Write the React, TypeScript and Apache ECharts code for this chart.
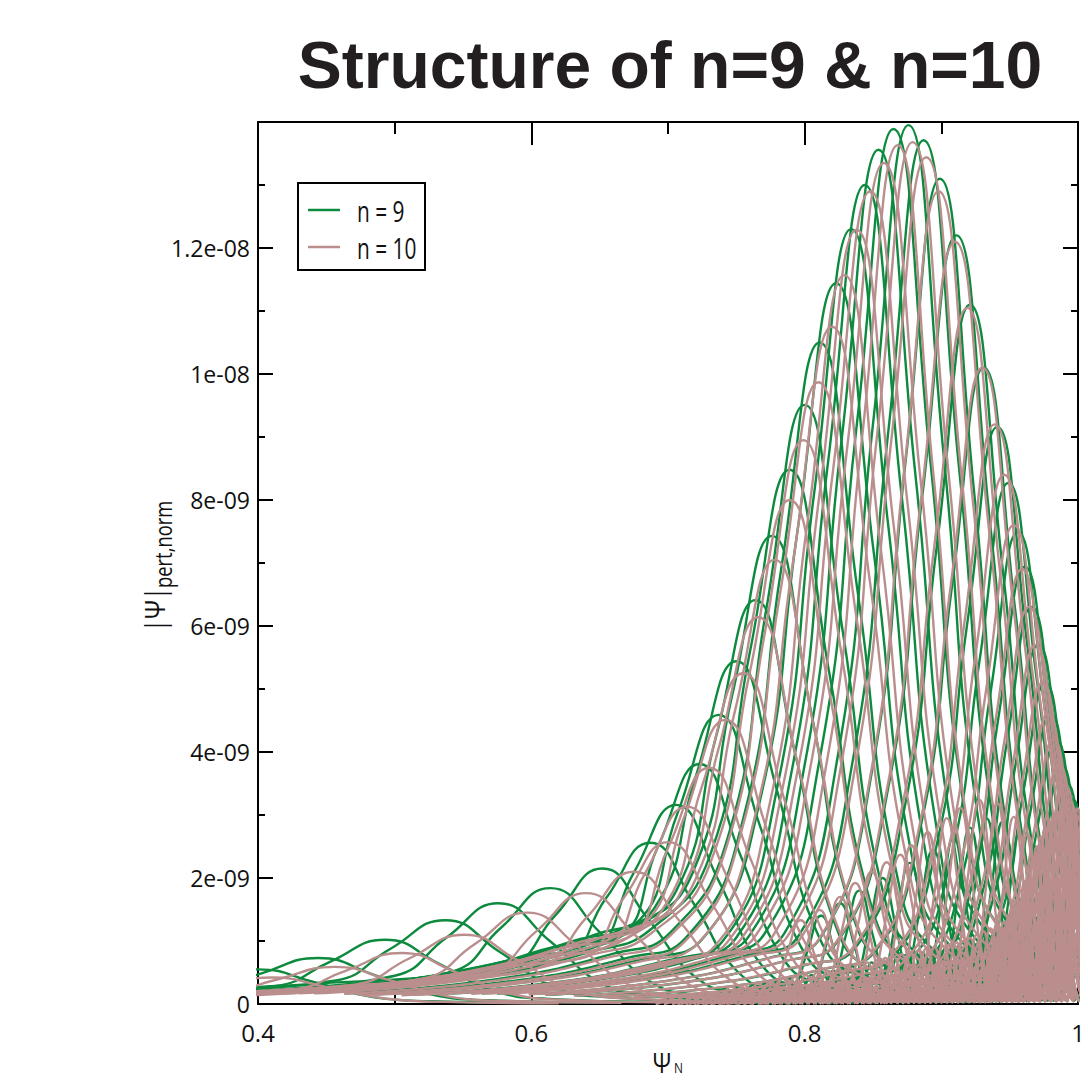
import React, { useEffect, useRef } from "react";
import * as echarts from "echarts";

// All y values are in units of 1e-9.
// n = 9 main harmonics: peak position, peak height, width (sigma), inner tail level (fraction of peak)
const n9PeakX = [0.400,0.444,0.493,0.537,0.576,0.614,0.652,0.687,0.706,0.723,0.737,0.750,0.764,0.776,0.789,0.800,0.811,0.823,0.834,0.844,0.854,0.865,0.876,0.887,0.899,0.911,0.921,0.931,0.941,0.949,0.956,0.961,0.966,0.971,0.976,0.980,0.984,0.988,0.992,0.996];
const n9PeakY = [0.55,0.73,1.02,1.33,1.60,1.84,2.15,2.56,3.16,3.81,4.59,5.44,6.41,7.43,8.48,9.51,10.5,11.44,12.3,13.0,13.56,13.89,13.95,13.71,13.1,12.2,11.1,10.1,9.16,8.27,7.49,6.94,6.3,5.7,5.1,4.6,4.2,3.8,3.5,3.25];
const n9Sigma = [0.042,0.042,0.04,0.04,0.038,0.036,0.034,0.032,0.031,0.03,0.03,0.03,0.029,0.029,0.029,0.028,0.028,0.028,0.027,0.027,0.027,0.027,0.026,0.026,0.025,0.025,0.024,0.023,0.022,0.021,0.020,0.019,0.018,0.017,0.016,0.015,0.014,0.013,0.012,0.011];
const n9Tail = [0.2,0.2,0.2,0.2,0.2,0.2,0.2,0.24,0.24,0.24,0.22,0.2,0.18,0.16,0.14,0.12,0.1,0.09,0.08,0.08,0.08,0.08,0.08,0.08,0.08,0.08,0.08,0.08,0.08,0.08,0.08,0.08,0.08,0.08,0.08,0.08,0.08,0.08,0.08,0.08];

// n = 10 main harmonics
const n10PeakX = [0.410,0.456,0.505,0.551,0.597,0.640,0.675,0.700,0.714,0.730,0.742,0.755,0.766,0.778,0.789,0.799,0.810,0.820,0.829,0.838,0.848,0.858,0.868,0.879,0.889,0.898,0.910,0.919,0.930,0.939,0.946,0.953,0.959,0.964,0.969,0.974,0.978,0.982,0.986,0.990,0.994,0.998];
const n10PeakY = [0.42,0.59,0.81,1.10,1.45,1.76,2.10,2.57,3.13,3.75,4.51,5.25,6.14,7.05,8.0,8.95,9.87,10.75,11.57,12.29,12.9,13.35,13.63,13.68,13.44,12.9,12.1,11.05,10.1,9.2,8.4,7.6,6.9,6.3,5.7,5.1,4.6,4.2,3.8,3.5,3.2,3.0];
const n10Sigma = [0.042,0.042,0.04,0.04,0.038,0.036,0.034,0.032,0.031,0.03,0.03,0.03,0.029,0.029,0.029,0.028,0.028,0.028,0.027,0.027,0.027,0.027,0.026,0.026,0.026,0.025,0.025,0.024,0.023,0.022,0.021,0.020,0.019,0.018,0.017,0.016,0.015,0.014,0.013,0.012,0.011,0.010];
const n10Tail = [0.2,0.2,0.2,0.2,0.2,0.2,0.2,0.24,0.24,0.24,0.22,0.2,0.18,0.16,0.14,0.12,0.1,0.09,0.08,0.08,0.08,0.08,0.08,0.08,0.08,0.08,0.08,0.08,0.08,0.08,0.08,0.08,0.08,0.08,0.08,0.08,0.08,0.08,0.08,0.08,0.08,0.08];

// secondary lobes
const n9LobeX = [0.812,0.826,0.840,0.857,0.877,0.894,0.909,0.921,0.933,0.945,0.957,0.968,0.978,0.987,0.995];
const n9LobeY = [1.40,1.60,1.80,2.00,2.24,2.44,2.65,2.80,2.95,2.90,2.70,2.50,2.30,2.10,1.90];
const n9LobeSigma = [0.010,0.010,0.010,0.010,0.010,0.010,0.009,0.009,0.009,0.009,0.008,0.008,0.007,0.007,0.006];

const n10LobeX = [0.797,0.811,0.826,0.837,0.849,0.860,0.870,0.878,0.890,0.904,0.914,0.928,0.941,0.953,0.963,0.972,0.980,0.988,0.995];
const n10LobeY = [1.33,1.49,1.70,1.92,2.10,2.25,2.37,2.52,2.73,2.95,3.11,3.24,3.19,2.97,2.70,2.45,2.20,2.00,1.80];
const n10LobeSigma = [0.010,0.010,0.010,0.010,0.010,0.010,0.010,0.009,0.009,0.009,0.009,0.009,0.008,0.008,0.007,0.007,0.006,0.006,0.005];

// small ripples near the baseline
const n9RippleX = [0.742,0.752,0.762,0.771,0.780,0.789,0.797,0.805,0.813,0.821,0.828,0.835,0.842,0.849,0.856,0.862,0.868,0.874,0.880,0.886,0.892,0.898,0.903,0.908,0.913,0.918,0.923,0.928,0.933,0.938,0.943,0.948,0.953,0.958,0.963,0.968,0.973,0.978,0.983,0.988,0.993,0.998];
const n9RippleY = [0.25,0.28,0.30,0.33,0.36,0.40,0.43,0.46,0.50,0.53,0.56,0.60,0.63,0.66,0.70,0.72,0.75,0.78,0.80,0.82,0.84,0.86,0.88,0.90,0.92,0.95,0.98,1.00,1.05,1.10,1.15,1.20,1.25,1.30,1.35,1.40,1.45,1.50,1.55,1.60,1.65,1.70];
const n10RippleX = [0.746,0.756,0.766,0.775,0.784,0.793,0.801,0.809,0.817,0.825,0.832,0.839,0.846,0.853,0.859,0.865,0.871,0.877,0.883,0.889,0.895,0.901,0.906,0.911,0.916,0.921,0.926,0.931,0.936,0.941,0.946,0.951,0.956,0.961,0.966,0.971,0.976,0.981,0.986,0.991,0.996];
const n10RippleY = [0.28,0.30,0.33,0.36,0.40,0.43,0.46,0.50,0.53,0.56,0.60,0.63,0.66,0.70,0.73,0.76,0.79,0.82,0.85,0.88,0.90,0.92,0.95,0.98,1.00,1.05,1.10,1.15,1.20,1.25,1.30,1.36,1.42,1.48,1.54,1.60,1.66,1.72,1.78,1.84,1.90];
const rippleSigma = 0.005;

// very small harmonics hugging the baseline (n = 10)
const n10FloorX = [0.700,0.706,0.712,0.718,0.724,0.730,0.736,0.742,0.748,0.754,0.760,0.765,0.770,0.775,0.780,0.785,0.790,0.795,0.800,0.805,0.810,0.815,0.820,0.825,0.830,0.835,0.840,0.845,0.850,0.855,0.860,0.864,0.868,0.872,0.876,0.880,0.884,0.888,0.892,0.896,0.900,0.904,0.908,0.912,0.916,0.920,0.924,0.928,0.932,0.936,0.940,0.944,0.948,0.952,0.956,0.960,0.964,0.968,0.972,0.976,0.980,0.984,0.988,0.992,0.996,1.000];
const n10FloorY = [0.12,0.13,0.14,0.15,0.16,0.17,0.18,0.19,0.20,0.21,0.22,0.23,0.24,0.25,0.26,0.27,0.28,0.29,0.30,0.31,0.32,0.33,0.34,0.35,0.36,0.37,0.38,0.39,0.40,0.42,0.44,0.46,0.48,0.50,0.52,0.54,0.56,0.58,0.60,0.62,0.64,0.66,0.68,0.70,0.72,0.74,0.76,0.78,0.80,0.82,0.84,0.86,0.88,0.90,0.92,0.94,0.96,0.98,1.00,1.02,1.04,1.06,1.08,1.10,1.12,1.14];
const floorSigma = 0.003;

// dense high-m harmonics packed against the edge (n = 10)
const n10EdgeX = [0.940,0.943,0.946,0.949,0.952,0.955,0.958,0.961,0.964,0.967,0.970,0.973,0.976,0.979,0.982,0.985,0.988,0.991,0.994,0.997,1.000];
const n10EdgeY = [1.0,1.1,1.2,1.35,1.5,1.65,1.8,1.95,2.1,2.3,2.5,2.65,2.8,2.9,3.0,3.05,3.1,3.1,3.1,3.1,3.1];
const edgeSigma = 0.004;

// shape key points of one harmonic (offset in widths, fraction of peak)
const tailOffsets = [-12, -8, -5, -3.5];
const tailShape = [0.15, 0.35, 0.7, 1];
const coreOffsets = [-2, -1, 0, 1, 2, 3, 5];
const coreRatios = [0.28, 0.66, 1, 0.62, 0.2, 0.08, 0.03];
const lobeOffsets = [-3, -2, -1, 0, 1, 2, 3];
const lobeRatios = [0.03, 0.15, 0.6, 1, 0.6, 0.15, 0.03];

const xTicks = [0.4, 0.6, 0.8, 1];
const yTickLabels: Record<number, string> = { 0: "0", 2: "2e-09", 4: "4e-09", 6: "6e-09", 8: "8e-09", 10: "1e-08", 12: "1.2e-08", 14: "" };

const GREEN = "#0d8a3e";
const PINK = "#bb8e8e";
const FONT = "'Open Sans', 'Liberation Sans', sans-serif";

function lineSeries(data: number[][], color: string, name: string, width: number) {
  return {
    type: "line",
    name,
    data,
    smooth: 0.5,
    symbol: "none",
    silent: true,
    clip: true,
    lineStyle: { color, width },
    itemStyle: { color },
  };
}

function mainSeries(xs: number[], ys: number[], sig: number[], tail: number[], color: string, name: string) {
  return xs.map((x, i) => {
    const s = sig[i];
    const h = ys[i];
    const pts = [
      ...tailOffsets.map((o, k) => [x + o * s, h * tail[i] * tailShape[k]]),
      ...coreOffsets.map((o, k) => [x + o * s, h * coreRatios[k]]),
    ];
    return lineSeries(pts, color, name, 2.4);
  });
}

function lobeSeries(xs: number[], ys: number[], sig: number[] | number, color: string, name: string, width = 2.4) {
  return xs.map((x, i) => {
    const s = Array.isArray(sig) ? sig[i] : sig;
    return lineSeries(lobeOffsets.map((o, k) => [x + o * s, ys[i] * lobeRatios[k]]), color, name, width);
  });
}

export default function App() {
  const ref = useRef<HTMLDivElement>(null);
  useEffect(() => {
    if (!ref.current) return;
    const chart = echarts.init(ref.current, null, { renderer: "svg" });
    const tickStyle = { color: "#000", width: 2 };
    const xBase = {
      type: "value",
      min: 0.4,
      max: 1,
      interval: 0.2,
      axisLine: { show: true, onZero: false, lineStyle: { color: "#000", width: 2 } },
      axisTick: { show: true, inside: true, length: 23, lineStyle: tickStyle },
      minorTick: { show: true, splitNumber: 2, length: 12, lineStyle: tickStyle },
      splitLine: { show: false },
    };
    const yBase = {
      type: "value",
      min: 0,
      max: 14,
      interval: 2,
      axisLine: { show: true, onZero: false, lineStyle: { color: "#000", width: 2 } },
      axisTick: { show: true, inside: true, length: 15, lineStyle: tickStyle },
      minorTick: { show: true, splitNumber: 2, length: 7, lineStyle: tickStyle },
      splitLine: { show: false },
    };
    const series = [
      ...mainSeries(n9PeakX, n9PeakY, n9Sigma, n9Tail, GREEN, "n = 9"),
      ...lobeSeries(n9LobeX, n9LobeY, n9LobeSigma, GREEN, "n = 9"),
      ...lobeSeries(n9RippleX, n9RippleY, rippleSigma, GREEN, "n = 9"),
      ...mainSeries(n10PeakX, n10PeakY, n10Sigma, n10Tail, PINK, "n = 10"),
      ...lobeSeries(n10LobeX, n10LobeY, n10LobeSigma, PINK, "n = 10"),
      ...lobeSeries(n10RippleX, n10RippleY, rippleSigma, PINK, "n = 10"),
      ...lobeSeries(n10FloorX, n10FloorY, floorSigma, PINK, "n = 10", 2.8),
      ...lobeSeries(n10EdgeX, n10EdgeY, edgeSigma, PINK, "n = 10", 3),
    ];
    chart.setOption({
      animation: false,
      backgroundColor: "#fff",
      grid: { left: 258, top: 122, width: 820, height: 882, containLabel: false },
      xAxis: [
        {
          ...xBase,
          position: "bottom",
          axisLabel: {
            show: true,
            margin: 16,
            color: "#111",
            fontSize: 24,
            fontFamily: FONT,
            formatter: (v: number) => {
              const t = xTicks.find((k) => Math.abs(k - v) < 1e-6);
              return t === undefined ? "" : t === 1 ? "1" : t.toFixed(1);
            },
          },
        },
        { ...xBase, position: "top", axisLabel: { show: false } },
      ],
      yAxis: [
        {
          ...yBase,
          position: "left",
          axisLabel: {
            show: true,
            margin: 8,
            color: "#111",
            fontSize: 23,
            fontFamily: FONT,
            formatter: (v: number) => yTickLabels[Math.round(v)] ?? "",
          },
        },
        { ...yBase, position: "right", axisLabel: { show: false } },
      ],
      series,
      graphic: [
        {
          type: "text",
          x: 670,
          y: 65,
          style: {
            text: "Structure of n=9 & n=10",
            font: "bold 66px 'Liberation Sans', Arial, sans-serif",
            fill: "#231f20",
            textAlign: "center",
            textVerticalAlign: "middle",
          },
        },
        {
          type: "group",
          x: 154,
          y: 632,
          rotation: Math.PI / 2,
          children: [
            { type: "text", x: 0, y: 0, scaleX: 0.85, style: { text: "|Ψ|", font: `28px ${FONT}`, fill: "#111", textVerticalAlign: "middle" } },
            { type: "text", x: 44, y: 9, scaleX: 0.8, style: { text: "pert,norm", font: `23px ${FONT}`, fill: "#111", textVerticalAlign: "middle" } },
          ],
        },
        { type: "text", x: 662, y: 1062, scaleX: 0.85, style: { text: "Ψ", font: `27px ${FONT}`, fill: "#111", textAlign: "center", textVerticalAlign: "middle" } },
        { type: "text", x: 674, y: 1061, scaleX: 0.85, style: { text: "N", font: `14px ${FONT}`, fill: "#111", textVerticalAlign: "top" } },
        {
          type: "group",
          z: 100,
          children: [
            { type: "rect", shape: { x: 298, y: 183, width: 127, height: 87 }, style: { fill: "#fff", stroke: "#000", lineWidth: 2 } },
            { type: "line", shape: { x1: 308, y1: 210, x2: 340, y2: 210 }, style: { stroke: GREEN, lineWidth: 2.5 } },
            { type: "text", x: 357, y: 211, scaleX: 0.72, style: { text: "n = 9", font: `29px ${FONT}`, fill: "#111", textVerticalAlign: "middle" } },
            { type: "line", shape: { x1: 308, y1: 247, x2: 340, y2: 247 }, style: { stroke: PINK, lineWidth: 2.5 } },
            { type: "text", x: 357, y: 248, scaleX: 0.72, style: { text: "n = 10", font: `29px ${FONT}`, fill: "#111", textVerticalAlign: "middle" } },
          ],
        },
      ],
    });
    return () => chart.dispose();
  }, []);
  return <div ref={ref} style={{ position: "absolute", left: 0, top: 0, width: 1088, height: 1082 }} />;
}
